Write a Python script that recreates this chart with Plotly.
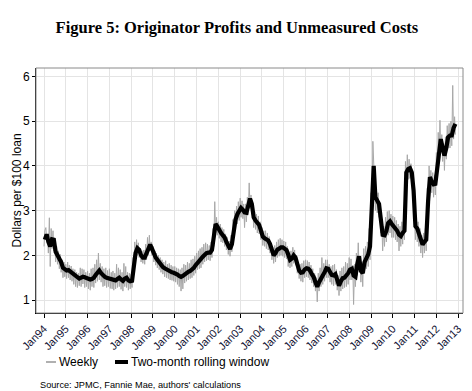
import pandas as pd
import plotly.graph_objects as go

# ---------------- data ----------------
# Two-month rolling window, one value per month, Jan 1994 .. Nov 2012
rolling_values = [
    2.35, 2.47, 2.30, 2.20, 2.36, 2.35, 2.08, 2.00, 1.93, 1.85, 1.72, 1.68,  # 1994
    1.66, 1.67, 1.64, 1.60, 1.56, 1.52, 1.49, 1.48, 1.50, 1.52, 1.51, 1.49,  # 1995
    1.47, 1.46, 1.47, 1.50, 1.56, 1.62, 1.66, 1.60, 1.54, 1.52, 1.50, 1.49,  # 1996
    1.48, 1.46, 1.45, 1.44, 1.47, 1.50, 1.46, 1.43, 1.48, 1.50, 1.44, 1.42,  # 1997
    1.43, 1.75, 2.05, 2.16, 2.12, 2.00, 1.95, 1.95, 2.05, 2.18, 2.24, 2.15,  # 1998
    2.02, 1.95, 1.90, 1.84, 1.80, 1.74, 1.71, 1.68, 1.66, 1.64, 1.62, 1.61,  # 1999
    1.60, 1.57, 1.54, 1.52, 1.54, 1.58, 1.60, 1.63, 1.65, 1.68, 1.72, 1.78,  # 2000
    1.84, 1.88, 1.92, 1.97, 2.02, 2.05, 2.06, 2.06, 2.12, 2.35, 2.70, 2.64,  # 2001
    2.55, 2.50, 2.45, 2.40, 2.30, 2.20, 2.14, 2.25, 2.60, 2.80, 2.92, 2.98,  # 2002
    3.06, 3.02, 2.96, 2.95, 3.10, 3.27, 3.15, 2.85, 2.78, 2.72, 2.68, 2.55,  # 2003
    2.42, 2.38, 2.35, 2.33, 2.25, 2.10, 2.00, 2.05, 2.13, 2.15, 2.18, 2.18,  # 2004
    2.15, 2.12, 2.02, 1.90, 1.93, 2.00, 1.95, 1.80, 1.66, 1.61, 1.62, 1.68,  # 2005
    1.71, 1.70, 1.66, 1.58, 1.52, 1.40, 1.30, 1.40, 1.50, 1.55, 1.62, 1.71,  # 2006
    1.70, 1.60, 1.56, 1.55, 1.58, 1.45, 1.32, 1.42, 1.49, 1.50, 1.54, 1.60,  # 2007
    1.68, 1.70, 1.55, 1.52, 1.80, 1.98, 1.65, 1.60, 1.85, 1.95, 2.02, 2.20,  # 2008
    3.10, 4.00, 3.30, 3.20, 3.15, 2.80, 2.46, 2.45, 2.55, 2.72, 2.76, 2.70,  # 2009
    2.65, 2.61, 2.55, 2.46, 2.43, 2.50, 2.55, 3.85, 3.93, 3.95, 3.85, 3.45,  # 2010
    2.65, 2.60, 2.50, 2.35, 2.24, 2.30, 2.35, 3.20, 3.75, 3.65, 3.59, 3.60,  # 2011
    4.00, 4.45, 4.60, 4.40, 4.23, 4.40, 4.64, 4.68, 4.68, 4.85, 4.94,        # 2012
]

# Weekly series, sampled twice a month (1st and 15th), Jan 1994 .. Nov 2012
weekly_values = [
    2.20, 2.55, 2.62, 2.35, 2.45, 2.05, 2.84, 1.75, 2.60, 2.15, 2.55, 2.10,
    2.30, 1.85, 2.20, 1.80, 2.10, 1.70, 2.02, 1.62, 1.90, 1.50, 1.85, 1.52,  # 1994
    1.80, 1.48, 1.85, 1.50, 1.78, 1.45, 1.76, 1.42, 1.70, 1.35, 1.68, 1.30,
    1.62, 1.28, 1.60, 1.32, 1.72, 1.30, 1.70, 1.36, 1.68, 1.28, 1.62, 1.30,  # 1995
    1.65, 1.25, 1.60, 1.22, 1.70, 1.30, 1.72, 1.28, 1.80, 1.38, 1.90, 1.42,
    2.05, 1.45, 1.82, 1.40, 1.75, 1.30, 1.70, 1.32, 1.72, 1.28, 1.66, 1.30,  # 1996
    1.70, 1.26, 1.62, 1.25, 1.65, 1.22, 1.60, 1.25, 1.80, 1.28, 1.72, 1.30,
    1.68, 1.24, 1.62, 1.20, 1.82, 1.30, 1.75, 1.28, 1.62, 1.22, 1.60, 1.25,  # 1997
    1.58, 1.28, 1.95, 1.60, 2.30, 1.90, 2.35, 2.00, 2.28, 1.95, 2.15, 1.85,
    2.10, 1.82, 2.12, 1.80, 2.25, 1.90, 2.40, 2.00, 2.45, 2.10, 2.30, 2.00,  # 1998
    2.20, 1.85, 2.10, 1.78, 2.05, 1.72, 2.00, 1.68, 1.95, 1.62, 1.90, 1.58,
    1.85, 1.52, 1.88, 1.50, 1.80, 1.48, 1.82, 1.45, 1.78, 1.44, 1.75, 1.42,  # 1999
    1.75, 1.40, 1.72, 1.35, 1.70, 1.30, 1.68, 1.20, 1.72, 1.25, 1.80, 1.38,
    1.78, 1.42, 1.85, 1.45, 1.82, 1.48, 1.90, 1.50, 1.92, 1.55, 1.98, 1.60,  # 2000
    2.05, 1.68, 2.10, 1.70, 2.15, 1.72, 2.18, 1.80, 2.25, 1.85, 2.28, 1.88,
    2.25, 1.90, 2.22, 1.88, 2.30, 1.95, 2.60, 2.20, 3.20, 2.50, 2.85, 2.45,  # 2001
    2.75, 2.38, 2.70, 2.30, 2.62, 2.28, 2.58, 2.20, 2.48, 2.12, 2.40, 2.02,
    2.32, 1.98, 2.45, 2.08, 2.80, 2.42, 3.00, 2.60, 3.10, 2.70, 3.20, 2.78,  # 2002
    3.28, 2.85, 3.22, 2.82, 3.15, 2.62, 3.15, 2.75, 3.30, 2.90, 3.62, 3.05,
    3.35, 2.92, 3.05, 2.62, 2.98, 2.58, 2.92, 2.50, 2.88, 2.48, 2.75, 2.35,  # 2003
    2.62, 2.22, 2.55, 2.20, 2.55, 2.15, 2.50, 2.12, 2.42, 2.05, 2.28, 1.90,
    2.18, 1.82, 2.22, 1.85, 2.30, 1.95, 2.35, 1.98, 2.38, 2.00, 2.35, 1.98,  # 2004
    2.32, 1.95, 2.30, 1.92, 2.20, 1.75, 2.08, 1.72, 2.10, 1.75, 2.18, 1.82,
    2.12, 1.78, 2.00, 1.60, 1.85, 1.48, 1.80, 1.42, 1.82, 1.40, 1.88, 1.50,  # 2005
    1.90, 1.52, 1.88, 1.50, 1.85, 1.45, 1.78, 1.38, 1.70, 1.30, 1.60, 1.20,
    1.50, 0.96, 1.60, 1.20, 1.72, 1.30, 1.95, 1.35, 1.82, 1.42, 1.90, 1.50,  # 2006
    1.90, 1.50, 1.80, 1.40, 1.75, 1.35, 1.78, 1.32, 1.80, 1.35, 1.68, 1.22,
    1.55, 1.10, 1.65, 1.20, 1.72, 1.25, 1.75, 1.28, 1.85, 1.30, 1.82, 1.35,  # 2007
    1.95, 1.45, 1.92, 1.45, 1.78, 0.90, 1.80, 1.30, 2.05, 1.55, 2.28, 1.70,
    1.90, 1.40, 1.85, 1.30, 2.15, 1.60, 2.20, 1.70, 2.30, 1.75, 2.60, 1.90,  # 2008
    3.40, 2.70, 4.55, 3.70, 3.60, 3.00, 3.45, 2.95, 3.40, 2.85, 3.05, 2.50,
    2.70, 2.10, 2.65, 2.20, 2.85, 2.30, 2.98, 2.45, 3.00, 2.50, 2.92, 2.40,  # 2009
    2.88, 2.40, 2.85, 2.35, 2.78, 2.30, 2.70, 2.10, 2.65, 2.20, 2.75, 2.25,
    2.90, 2.35, 4.10, 3.55, 4.25, 3.70, 4.15, 3.72, 4.05, 3.60, 3.70, 3.10,  # 2010
    2.90, 2.35, 2.85, 2.30, 2.75, 2.20, 2.60, 2.05, 2.45, 1.95, 2.50, 2.05,
    2.60, 2.10, 3.50, 2.90, 4.00, 3.50, 3.90, 3.40, 3.85, 3.30, 3.80, 3.35,  # 2011
    4.30, 3.75, 4.75, 4.20, 5.02, 4.30, 4.70, 4.10, 4.50, 3.90, 4.65, 4.15,
    4.90, 4.40, 4.95, 4.40, 5.00, 4.45, 5.80, 4.60, 5.10, 4.70,              # 2012
]

tick_years = list(range(1994, 2014))
tick_labels = ["Jan94", "Jan95", "Jan96", "Jan97", "Jan98", "Jan99", "Jan00",
               "Jan01", "Jan02", "Jan03", "Jan04", "Jan05", "Jan06", "Jan07",
               "Jan08", "Jan09", "Jan10", "Jan11", "Jan12", "Jan13"]
y_ticks = [1, 2, 3, 4, 5, 6]

# ---------------- figure ----------------
rolling_dates = pd.date_range("1994-01-01", periods=len(rolling_values), freq="MS") + pd.Timedelta(days=14)
weekly_dates = pd.date_range("1994-01-01", periods=len(weekly_values), freq="SMS")

W, H = 472, 391
L, R, T, B = 36, 9, 68, 78
pw, ph = W - L - R, H - T - B


def px_x(p):
    return (p - L) / pw


def px_y(p):
    return (H - B - p) / ph


fig = go.Figure()
fig.add_trace(go.Scatter(x=weekly_dates, y=weekly_values, mode="lines",
                         name="Weekly", line=dict(color="#a8a8a8", width=1),
                         showlegend=False))
fig.add_trace(go.Scatter(x=rolling_dates, y=rolling_values, mode="lines",
                         name="Two-month rolling window",
                         line=dict(color="#000000", width=4.2),
                         showlegend=False))

font_sans = "Arial, Liberation Sans, sans-serif"

fig.update_layout(
    width=W, height=H,
    margin=dict(l=L, r=R, t=T, b=B, autoexpand=False),
    paper_bgcolor="white", plot_bgcolor="white",
    title=dict(text="<b>Figure 5: Originator Profits and Unmeasured Costs</b>",
               font=dict(family="Times New Roman, Liberation Serif, serif", size=16.5, color="black"),
               x=0.502, xanchor="center", y=1 - 27 / H, yanchor="middle", yref="container"),
    xaxis=dict(
        type="date",
        automargin=False,
        range=["1993-08-20", "2013-03-22"],
        tickvals=[f"{y}-01-01" for y in tick_years],
        ticktext=tick_labels,
        tickangle=-45,
        tickfont=dict(family=font_sans, size=11, color="#111133"),
        ticks="outside", ticklen=4, tickcolor="black", tickwidth=1,
        showline=True, linecolor="black", linewidth=1,
        showgrid=True, gridcolor="#e4e4e4", gridwidth=1,
        zeroline=False,
    ),
    yaxis=dict(
        automargin=False,
        range=[0.71, 6.19],
        tickvals=y_ticks,
        tickfont=dict(family=font_sans, size=12, color="black"),
        ticks="outside", ticklen=3, tickcolor="black", tickwidth=1,
        showline=True, linecolor="black", linewidth=1,
        showgrid=True, gridcolor="#e4e4e4", gridwidth=1,
        zeroline=False,
    ),
    showlegend=False,
)

# frame (top/right in gray)
fig.add_shape(type="rect", xref="paper", yref="paper", x0=0, x1=1, y0=0, y1=1,
              line=dict(color="#8a8a8a", width=1), layer="above")

# legend
leg_y = px_y(362)
fig.add_shape(type="line", xref="paper", yref="paper", x0=px_x(46), x1=px_x(56),
              y0=leg_y, y1=leg_y, line=dict(color="#b0b0b0", width=2))
fig.add_shape(type="line", xref="paper", yref="paper", x0=px_x(115), x1=px_x(128),
              y0=leg_y, y1=leg_y, line=dict(color="black", width=4))
fig.add_annotation(text="Weekly", xref="paper", yref="paper", x=px_x(57), y=leg_y,
                   xanchor="left", yanchor="middle", showarrow=False,
                   font=dict(family=font_sans, size=12, color="black"))
fig.add_annotation(text="Two-month rolling window", xref="paper", yref="paper",
                   x=px_x(129), y=leg_y, xanchor="left", yanchor="middle", showarrow=False,
                   font=dict(family=font_sans, size=12, color="black"))

# y-axis title
fig.add_annotation(text="Dollars per $100 loan", xref="paper", yref="paper",
                   x=px_x(16), y=0.5, textangle=-90, xanchor="center", yanchor="middle",
                   showarrow=False, font=dict(family=font_sans, size=12, color="black"))

# source note
fig.add_annotation(text="Source: JPMC, Fannie Mae, authors' calculations",
                   xref="paper", yref="paper", x=px_x(38), y=px_y(385),
                   xanchor="left", yanchor="middle", showarrow=False,
                   font=dict(family=font_sans, size=9.2, color="black"))

fig.write_html("out.html", config={"displayModeBar": False},
               post_script="document.body.style.margin='0px';")
